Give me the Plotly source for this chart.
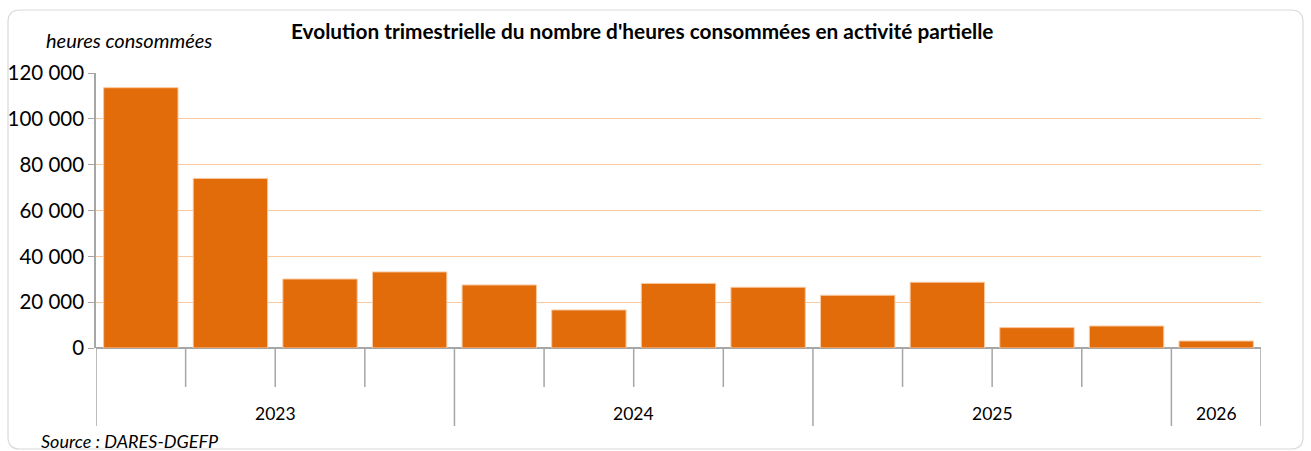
import plotly.graph_objects as go

# Data
years = ["2023", "2023", "2023", "2023", "2024", "2024", "2024", "2024",
         "2025", "2025", "2025", "2025", "2026"]
quarters = ["T1", "T2", "T3", "T4", "T1", "T2", "T3", "T4",
            "T1", "T2", "T3", "T4", "T1"]
heures = [113600, 74000, 30100, 33200, 27500, 16600, 28200, 26500,
          23000, 28700, 8900, 9600, 3050]
yticks = [0, 20000, 40000, 60000, 80000, 100000, 120000]

labels = [f"{q} {y}" for q, y in zip(quarters, years)]

W, H = 1311, 451
L, R, T, B = 96, 1261, 73, 348  # plot area in pixels
PW, PH = R - L, B - T

def px(xp):
    return (xp - L) / PW

def py(yp):
    return (B - yp) / PH

FONT = "Lato"
GRAY = "#A6A6A6"

fig = go.Figure()
fig.add_trace(go.Bar(
    x=labels, y=heures,
    marker=dict(color="#E36C0A", line=dict(color="#F9C9A0", width=1)),
    hoverinfo="x+y",
))

shapes = []
n = len(labels)
for k in range(n + 1):
    is_year_border = (k == 0 or k == n or years[k] != years[k - 1])
    y1 = py(426) if is_year_border else py(387)
    shapes.append(dict(type="line", xref="x", yref="paper",
                       x0=k - 0.5, x1=k - 0.5, y0=0, y1=y1,
                       line=dict(color=GRAY, width=1.5)))

# rounded chart border
x0, x1 = px(8), px(1303)
y0, y1 = py(449), py(10)
rx, ry = 12 / PW, 12 / PH
path = (f"M {x0+rx},{y1} L {x1-rx},{y1} Q {x1},{y1} {x1},{y1-ry} "
        f"L {x1},{y0+ry} Q {x1},{y0} {x1-rx},{y0} "
        f"L {x0+rx},{y0} Q {x0},{y0} {x0},{y0+ry} "
        f"L {x0},{y1-ry} Q {x0},{y1} {x0+rx},{y1} Z")
shapes.append(dict(type="path", xref="paper", yref="paper", path=path,
                   line=dict(color="#D9D9D9", width=1.2), layer="below"))

annotations = []
seen = []
for y in years:
    if y not in seen:
        seen.append(y)
for y in seen:
    idx = [i for i, v in enumerate(years) if v == y]
    annotations.append(dict(x=sum(idx) / len(idx), y=py(413), xref="x", yref="paper",
                            yanchor="middle", text=y, showarrow=False,
                            font=dict(family=FONT, size=17.5, color="#000000")))

annotations.append(dict(x=px(642), y=py(31), xref="paper", yref="paper", yanchor="middle",
                        text="<b>Evolution trimestrielle du nombre d'heures consommées en activité partielle</b>",
                        showarrow=False, font=dict(family=FONT, size=20.8, color="#000000")))
annotations.append(dict(x=px(44), y=py(40), xref="paper", yref="paper", xanchor="left",
                        yanchor="middle",
                        text="<i>heures consommées</i>", showarrow=False,
                        font=dict(family=FONT, size=20, color="#000000")))
annotations.append(dict(x=px(39), y=py(441), xref="paper", yref="paper", xanchor="left",
                        yanchor="middle",
                        text="<i>Source : DARES-DGEFP</i>", showarrow=False,
                        font=dict(family=FONT, size=18, color="#000000")))

fig.update_layout(
    width=W, height=H,
    margin=dict(l=L, r=W - R, t=T, b=H - B, pad=0, autoexpand=False),
    paper_bgcolor="white", plot_bgcolor="white",
    separators=", ",
    bargap=0.17,
    showlegend=False,
    shapes=shapes,
    annotations=annotations,
    xaxis=dict(type="category", range=[-0.5, n - 0.5], showticklabels=False,
               showgrid=False, zeroline=False, showline=False, ticks="",
               automargin=False),
    yaxis=dict(range=[0, 120000], tickvals=yticks, tickformat=",d",
               showgrid=True, gridcolor="#F9C9A0", gridwidth=1,
               zeroline=True, zerolinecolor=GRAY, zerolinewidth=1.5,
               showline=True, linecolor=GRAY, linewidth=1.5,
               ticks="outside", ticklen=6, tickcolor=GRAY, automargin=False,
               tickfont=dict(family=FONT, size=20.5, color="#000000")),
)

fig.write_html("out.html", config={"displayModeBar": False},
               post_script="document.body.style.margin='0px';")
